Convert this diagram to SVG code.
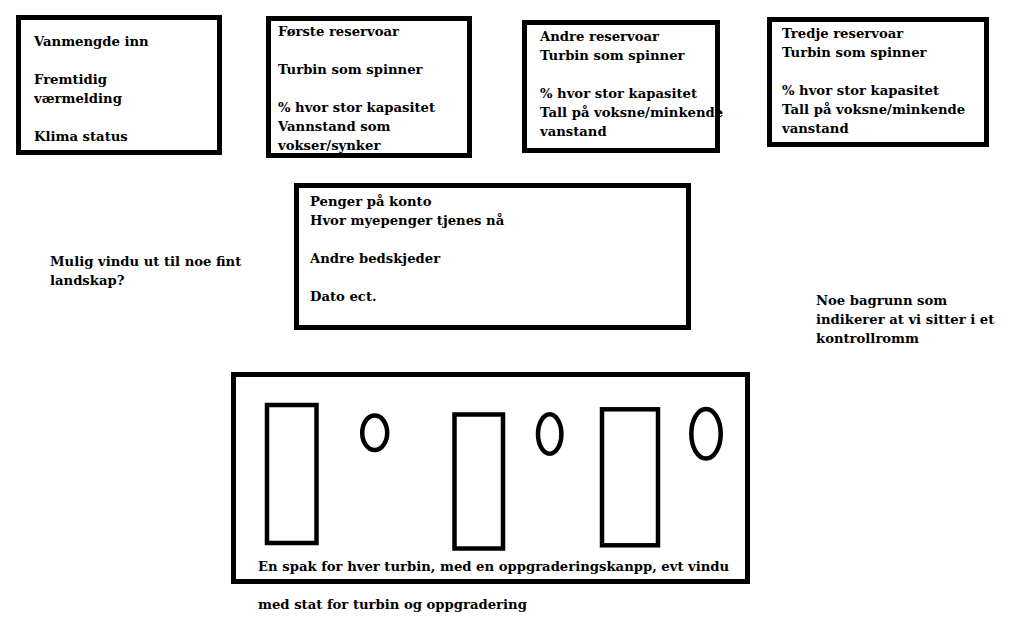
<svg xmlns="http://www.w3.org/2000/svg" width="1015" height="640" viewBox="0 0 1015 640">
<style>
text{font-family:"DejaVu Serif","Liberation Serif",serif;font-weight:bold;font-size:13.2px;fill:#000}
.box{fill:none;stroke:#000;stroke-width:5}
.ctl{fill:none;stroke:#000;stroke-width:4.5}
</style>
<rect width="1015" height="640" fill="#fff"/>
<g id="klima">
<text x="34" y="46">Vanmengde inn</text>
<text x="34" y="84">Fremtidig</text>
<text x="34" y="103">værmelding</text>
<text x="34" y="141">Klima status</text>
<rect class="box" x="18.5" y="17.5" width="201" height="135"/>
</g>
<g id="reservoar1">
<text x="278" y="36">Første reservoar</text>
<text x="278" y="74">Turbin som spinner</text>
<text x="278" y="112">% hvor stor kapasitet</text>
<text x="278" y="131">Vannstand som</text>
<text x="278" y="150">vokser/synker</text>
<rect class="box" x="268.5" y="18.5" width="201" height="137"/>
</g>
<g id="reservoar2">
<text x="540" y="41">Andre reservoar</text>
<text x="540" y="60">Turbin som spinner</text>
<text x="540" y="98">% hvor stor kapasitet</text>
<text x="540" y="117">Tall på voksne/minkende</text>
<text x="540" y="136">vanstand</text>
<rect class="box" x="524.5" y="22.5" width="193" height="128"/>
</g>
<g id="reservoar3">
<text x="782" y="38">Tredje reservoar</text>
<text x="782" y="57">Turbin som spinner</text>
<text x="782" y="95">% hvor stor kapasitet</text>
<text x="782" y="114">Tall på voksne/minkende</text>
<text x="782" y="133">vanstand</text>
<rect class="box" x="769.5" y="19.5" width="217" height="125"/>
</g>
<g id="penger">
<text x="310" y="206">Penger på konto</text>
<text x="310" y="225">Hvor myepenger tjenes nå</text>
<text x="310" y="263">Andre bedskjeder</text>
<text x="310" y="301">Dato ect.</text>
<rect class="box" x="296.5" y="185.5" width="392" height="142"/>
</g>
<g id="vindu">
<text x="50" y="266">Mulig vindu ut til noe fint</text>
<text x="50" y="285">landskap?</text>
</g>
<g id="bakgrunn">
<text x="816" y="305">Noe bagrunn som</text>
<text x="816" y="324">indikerer at vi sitter i et</text>
<text x="816" y="343">kontrollromm</text>
</g>
<g id="kontroll">
<rect class="box" x="233.5" y="374.5" width="514" height="207"/>
<rect class="ctl" x="267" y="405" width="49.5" height="138"/>
<ellipse class="ctl" cx="374.7" cy="432.8" rx="12.5" ry="17.3"/>
<rect class="ctl" x="454.5" y="414.5" width="48.5" height="134"/>
<ellipse class="ctl" cx="549.7" cy="434" rx="11.7" ry="19.7"/>
<rect class="ctl" x="602" y="409.3" width="56" height="136"/>
<ellipse class="ctl" cx="706" cy="433.8" rx="14.7" ry="24.8"/>
<text x="258" y="571">En spak for hver turbin, med en oppgraderingskanpp, evt vindu</text>
</g>
<g id="notat">
<text x="258" y="609">med stat for turbin og oppgradering</text>
</g>
<g id="connectors"/>
</svg>
